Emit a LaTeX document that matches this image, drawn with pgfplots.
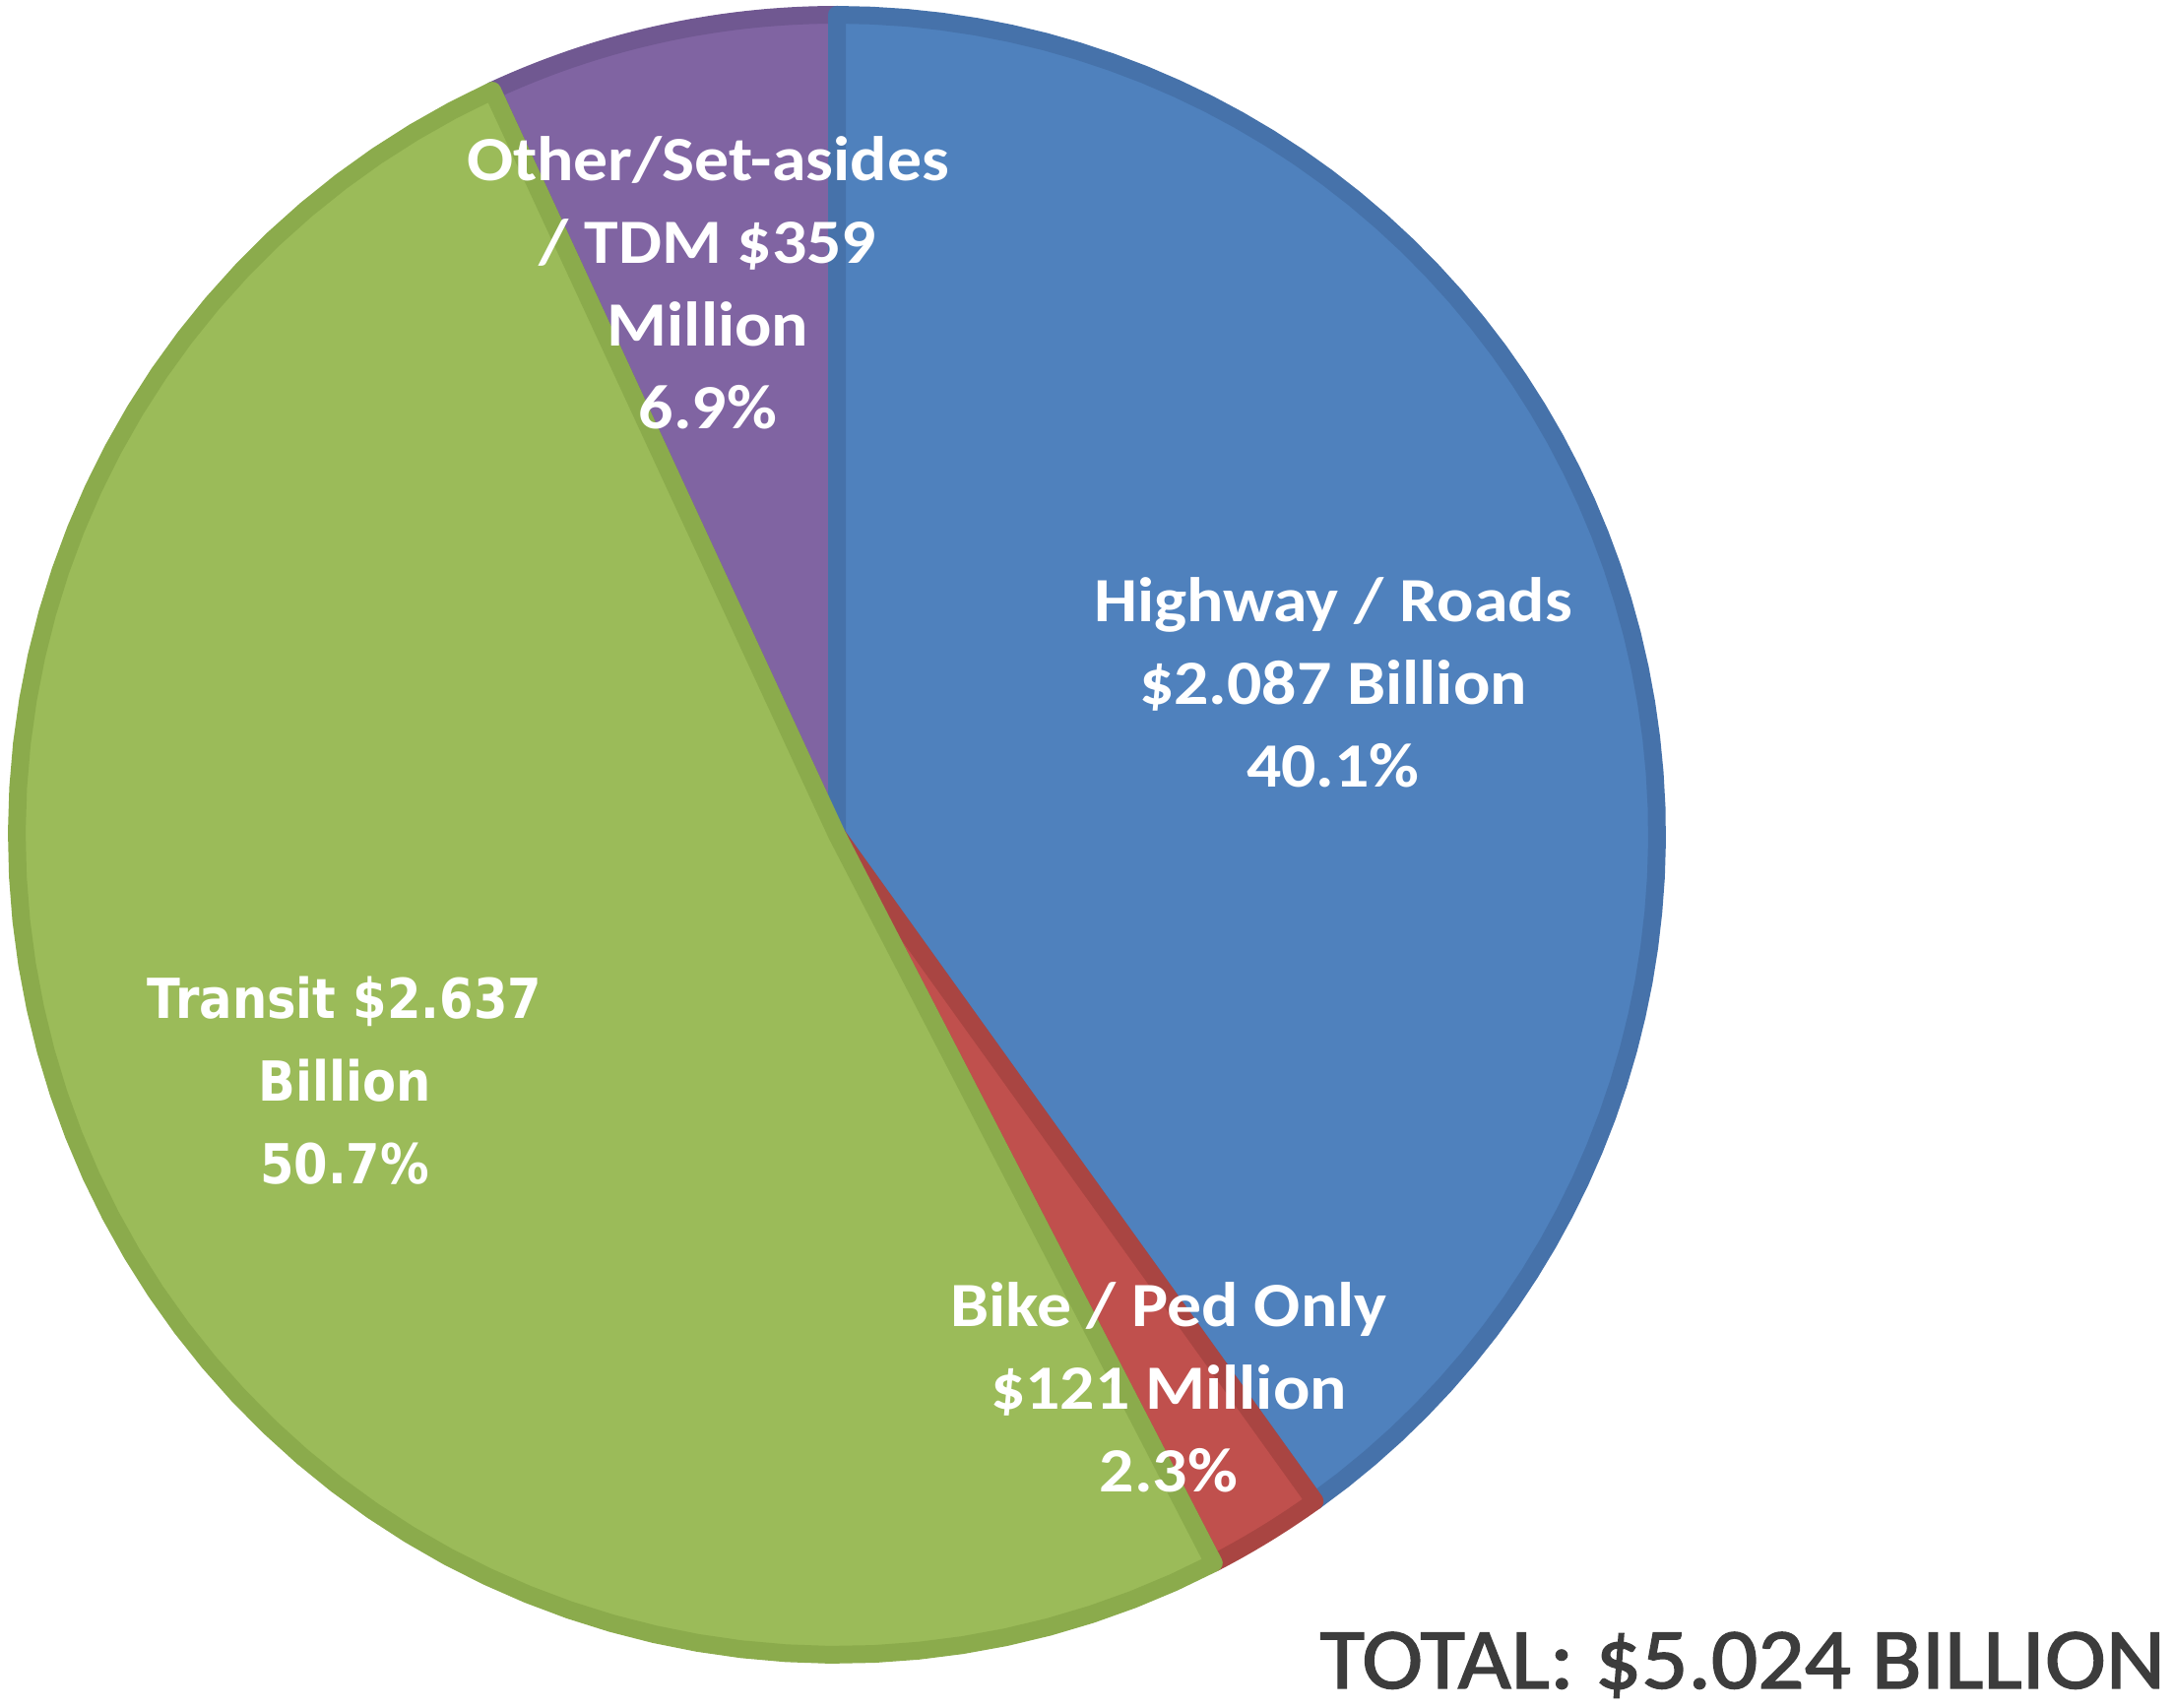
\documentclass[border=0pt]{standalone}
\usepackage{pgfplots}
\pgfplotsset{compat=1.18}
\usepackage{fontspec}
\setmainfont{Carlito}
\newfontfamily\dejavu{DejaVu Sans}
\newfontfamily\totfont[FakeBold=1.6]{Carlito}

\definecolor{hwy}{HTML}{4F81BD}
\definecolor{hwyd}{HTML}{4672AA}
\definecolor{bike}{HTML}{C0504D}
\definecolor{biked}{HTML}{A94542}
\definecolor{trn}{HTML}{9BBB59}
\definecolor{trnd}{HTML}{8BAB4C}
\definecolor{oth}{HTML}{8064A2}
\definecolor{othd}{HTML}{705891}
\definecolor{totc}{HTML}{3C3C3C}

% Shares of $5.024 billion (percent), clockwise from 12 o'clock:
% Highway / Roads 40.1, Bike / Ped Only 2.3, Transit 50.7, Other/Set-asides / TDM 6.9
% cumulative bounds: 0 | 40.1 | 42.4 | 93.1 | 100

\begin{document}
\begin{tikzpicture}
\useasboundingbox (0,0) rectangle (552pt,433.75pt);
\begin{axis}[
  at={(0,0)}, anchor=origin,
  scale only axis, width=552pt, height=433.75pt,
  xmin=0, xmax=2208, ymin=0, ymax=1735,
  hide axis, clip=false,
  every axis plot/.append style={line width=4.5pt, line join=round, samples=60, variable=\t},
]
% Other/Set-asides / TDM
\addplot[fill=oth, draw=othd, domain=93.1:100]
  ({850+833*cos(90-3.6*\t)},{887+833*sin(90-3.6*\t)}) -- (axis cs:850,887) -- cycle;
% Highway / Roads
\addplot[fill=hwy, draw=hwyd, domain=0:40.1]
  ({850+833*cos(90-3.6*\t)},{887+833*sin(90-3.6*\t)}) -- (axis cs:850,887) -- cycle;
% Bike / Ped Only
\addplot[fill=bike, draw=biked, domain=40.1:42.4, samples=10]
  ({850+833*cos(90-3.6*\t)},{887+833*sin(90-3.6*\t)}) -- (axis cs:850,887) -- cycle;
% Transit
\addplot[fill=trn, draw=trnd, domain=42.4:93.1]
  ({850+833*cos(90-3.6*\t)},{887+833*sin(90-3.6*\t)}) -- (axis cs:850,887) -- cycle;

\node[text=white, font=\fontsize{16}{21}\selectfont\bfseries, align=center, xscale=1.09, transform shape]
  at (axis cs:719,1448) {Other/Set-asides\\/ TDM \$359\\Million\\6.9\%};
\node[text=white, font=\fontsize{16}{21}\selectfont\bfseries, align=center, xscale=1.09, transform shape]
  at (axis cs:1354,1042) {Highway / Roads\\\$2.087 Billion\\40.1\%};
\node[text=white, font=\fontsize{16}{21}\selectfont\bfseries, align=center, xscale=1.09, transform shape]
  at (axis cs:1187,326) {Bike / Ped Only\\\$121 Million\\2.3\%};
\node[text=white, font=\dejavu\fontsize{14}{21}\selectfont\bfseries, align=center, xscale=0.885, transform shape]
  at (axis cs:350,637) {Transit \$2.637\\Billion\\50.7\%};
\node[text=totc, font=\totfont\fontsize{22}{26}\selectfont, anchor=base east, xscale=1.06, transform shape, inner sep=0pt]
  at (axis cs:2200,20) {TOTAL: \$5.024 BILLION};
\end{axis}
\end{tikzpicture}
\end{document}
